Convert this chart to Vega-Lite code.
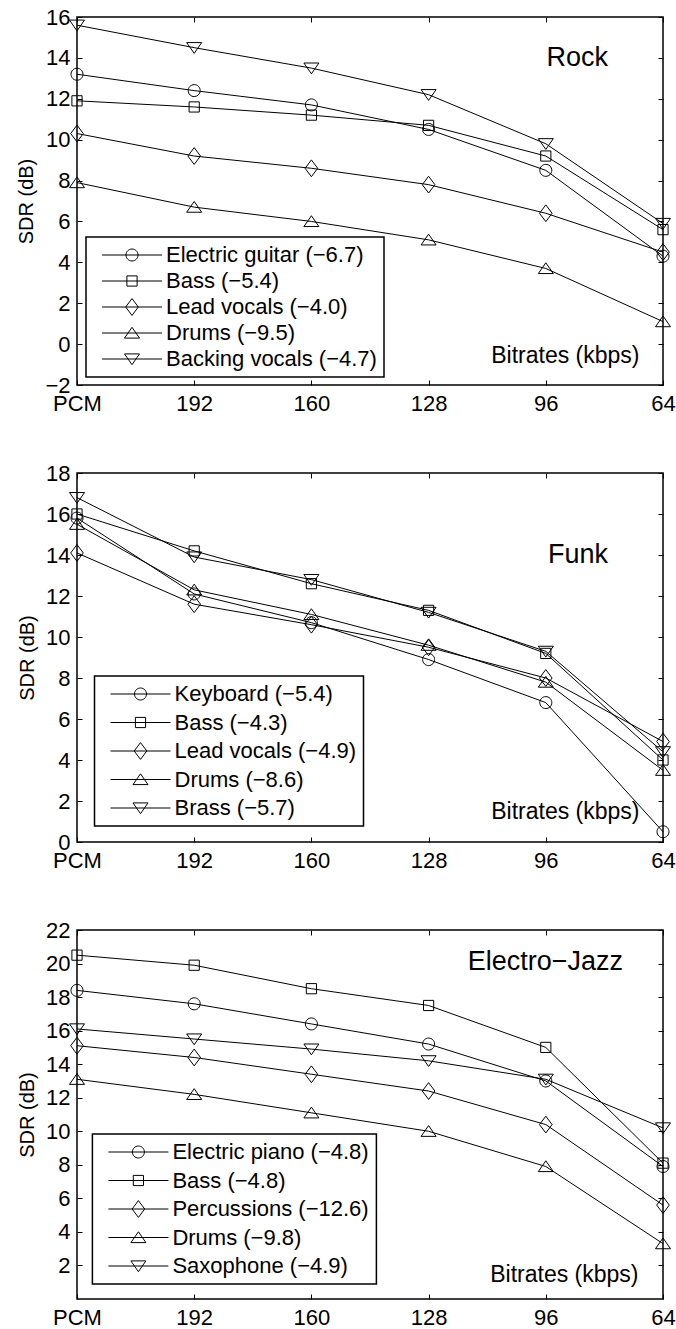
{
  "$schema": "https://vega.github.io/schema/vega-lite/v6.json",
  "padding": {"left": 16, "top": 5, "right": 0, "bottom": 0},
  "spacing": 46,
  "config": {
    "font": "Liberation Sans",
    "view": {"stroke": "black", "strokeWidth": 1.5},
    "axis": {
      "grid": false, "domain": false, "ticks": true, "tickSize": -5, "tickColor": "black", "tickWidth": 1,
      "labelFont": "Liberation Sans", "labelFontSize": 22, "labelColor": "black",
      "titleFont": "Liberation Sans", "titleFontWeight": "normal", "titleColor": "black"
    },
    "legend": {
      "strokeColor": "black", "strokeWidth": 1.5, "fillColor": "white", "padding": 7,
      "labelFont": "Liberation Sans", "labelFontSize": 22, "labelColor": "black", "labelLimit": 400,
      "symbolSize": 144, "symbolStrokeWidth": 1, "symbolStrokeColor": "black", "symbolFillColor": "transparent",
      "symbolOffset": 28, "labelOffset": 23, "rowPadding": 4
    }
  },
  "datasets": {
    "sdr": [
      {"panel": "Rock", "series": "Electric guitar (−6.7)", "bitrate": "PCM", "sdr": 13.2},
      {"panel": "Rock", "series": "Electric guitar (−6.7)", "bitrate": "192", "sdr": 12.4},
      {"panel": "Rock", "series": "Electric guitar (−6.7)", "bitrate": "160", "sdr": 11.7},
      {"panel": "Rock", "series": "Electric guitar (−6.7)", "bitrate": "128", "sdr": 10.5},
      {"panel": "Rock", "series": "Electric guitar (−6.7)", "bitrate": "96", "sdr": 8.5},
      {"panel": "Rock", "series": "Electric guitar (−6.7)", "bitrate": "64", "sdr": 4.3},
      {"panel": "Rock", "series": "Bass (−5.4)", "bitrate": "PCM", "sdr": 11.9},
      {"panel": "Rock", "series": "Bass (−5.4)", "bitrate": "192", "sdr": 11.6},
      {"panel": "Rock", "series": "Bass (−5.4)", "bitrate": "160", "sdr": 11.2},
      {"panel": "Rock", "series": "Bass (−5.4)", "bitrate": "128", "sdr": 10.7},
      {"panel": "Rock", "series": "Bass (−5.4)", "bitrate": "96", "sdr": 9.2},
      {"panel": "Rock", "series": "Bass (−5.4)", "bitrate": "64", "sdr": 5.6},
      {"panel": "Rock", "series": "Lead vocals (−4.0)", "bitrate": "PCM", "sdr": 10.3},
      {"panel": "Rock", "series": "Lead vocals (−4.0)", "bitrate": "192", "sdr": 9.2},
      {"panel": "Rock", "series": "Lead vocals (−4.0)", "bitrate": "160", "sdr": 8.6},
      {"panel": "Rock", "series": "Lead vocals (−4.0)", "bitrate": "128", "sdr": 7.8},
      {"panel": "Rock", "series": "Lead vocals (−4.0)", "bitrate": "96", "sdr": 6.4},
      {"panel": "Rock", "series": "Lead vocals (−4.0)", "bitrate": "64", "sdr": 4.5},
      {"panel": "Rock", "series": "Drums (−9.5)", "bitrate": "PCM", "sdr": 7.9},
      {"panel": "Rock", "series": "Drums (−9.5)", "bitrate": "192", "sdr": 6.7},
      {"panel": "Rock", "series": "Drums (−9.5)", "bitrate": "160", "sdr": 6.0},
      {"panel": "Rock", "series": "Drums (−9.5)", "bitrate": "128", "sdr": 5.1},
      {"panel": "Rock", "series": "Drums (−9.5)", "bitrate": "96", "sdr": 3.7},
      {"panel": "Rock", "series": "Drums (−9.5)", "bitrate": "64", "sdr": 1.1},
      {"panel": "Rock", "series": "Backing vocals (−4.7)", "bitrate": "PCM", "sdr": 15.6},
      {"panel": "Rock", "series": "Backing vocals (−4.7)", "bitrate": "192", "sdr": 14.5},
      {"panel": "Rock", "series": "Backing vocals (−4.7)", "bitrate": "160", "sdr": 13.5},
      {"panel": "Rock", "series": "Backing vocals (−4.7)", "bitrate": "128", "sdr": 12.2},
      {"panel": "Rock", "series": "Backing vocals (−4.7)", "bitrate": "96", "sdr": 9.8},
      {"panel": "Rock", "series": "Backing vocals (−4.7)", "bitrate": "64", "sdr": 5.9},

      {"panel": "Funk", "series": "Keyboard (−5.4)", "bitrate": "PCM", "sdr": 15.8},
      {"panel": "Funk", "series": "Keyboard (−5.4)", "bitrate": "192", "sdr": 12.1},
      {"panel": "Funk", "series": "Keyboard (−5.4)", "bitrate": "160", "sdr": 10.7},
      {"panel": "Funk", "series": "Keyboard (−5.4)", "bitrate": "128", "sdr": 8.9},
      {"panel": "Funk", "series": "Keyboard (−5.4)", "bitrate": "96", "sdr": 6.8},
      {"panel": "Funk", "series": "Keyboard (−5.4)", "bitrate": "64", "sdr": 0.5},
      {"panel": "Funk", "series": "Bass (−4.3)", "bitrate": "PCM", "sdr": 16.0},
      {"panel": "Funk", "series": "Bass (−4.3)", "bitrate": "192", "sdr": 14.2},
      {"panel": "Funk", "series": "Bass (−4.3)", "bitrate": "160", "sdr": 12.6},
      {"panel": "Funk", "series": "Bass (−4.3)", "bitrate": "128", "sdr": 11.3},
      {"panel": "Funk", "series": "Bass (−4.3)", "bitrate": "96", "sdr": 9.2},
      {"panel": "Funk", "series": "Bass (−4.3)", "bitrate": "64", "sdr": 4.0},
      {"panel": "Funk", "series": "Lead vocals (−4.9)", "bitrate": "PCM", "sdr": 14.1},
      {"panel": "Funk", "series": "Lead vocals (−4.9)", "bitrate": "192", "sdr": 11.6},
      {"panel": "Funk", "series": "Lead vocals (−4.9)", "bitrate": "160", "sdr": 10.6},
      {"panel": "Funk", "series": "Lead vocals (−4.9)", "bitrate": "128", "sdr": 9.5},
      {"panel": "Funk", "series": "Lead vocals (−4.9)", "bitrate": "96", "sdr": 8.0},
      {"panel": "Funk", "series": "Lead vocals (−4.9)", "bitrate": "64", "sdr": 4.9},
      {"panel": "Funk", "series": "Drums (−8.6)", "bitrate": "PCM", "sdr": 15.5},
      {"panel": "Funk", "series": "Drums (−8.6)", "bitrate": "192", "sdr": 12.3},
      {"panel": "Funk", "series": "Drums (−8.6)", "bitrate": "160", "sdr": 11.1},
      {"panel": "Funk", "series": "Drums (−8.6)", "bitrate": "128", "sdr": 9.6},
      {"panel": "Funk", "series": "Drums (−8.6)", "bitrate": "96", "sdr": 7.8},
      {"panel": "Funk", "series": "Drums (−8.6)", "bitrate": "64", "sdr": 3.5},
      {"panel": "Funk", "series": "Brass (−5.7)", "bitrate": "PCM", "sdr": 16.8},
      {"panel": "Funk", "series": "Brass (−5.7)", "bitrate": "192", "sdr": 13.9},
      {"panel": "Funk", "series": "Brass (−5.7)", "bitrate": "160", "sdr": 12.8},
      {"panel": "Funk", "series": "Brass (−5.7)", "bitrate": "128", "sdr": 11.2},
      {"panel": "Funk", "series": "Brass (−5.7)", "bitrate": "96", "sdr": 9.3},
      {"panel": "Funk", "series": "Brass (−5.7)", "bitrate": "64", "sdr": 4.4},

      {"panel": "Electro-Jazz", "series": "Electric piano (−4.8)", "bitrate": "PCM", "sdr": 18.4},
      {"panel": "Electro-Jazz", "series": "Electric piano (−4.8)", "bitrate": "192", "sdr": 17.6},
      {"panel": "Electro-Jazz", "series": "Electric piano (−4.8)", "bitrate": "160", "sdr": 16.4},
      {"panel": "Electro-Jazz", "series": "Electric piano (−4.8)", "bitrate": "128", "sdr": 15.2},
      {"panel": "Electro-Jazz", "series": "Electric piano (−4.8)", "bitrate": "96", "sdr": 13.0},
      {"panel": "Electro-Jazz", "series": "Electric piano (−4.8)", "bitrate": "64", "sdr": 7.9},
      {"panel": "Electro-Jazz", "series": "Bass (−4.8)", "bitrate": "PCM", "sdr": 20.5},
      {"panel": "Electro-Jazz", "series": "Bass (−4.8)", "bitrate": "192", "sdr": 19.9},
      {"panel": "Electro-Jazz", "series": "Bass (−4.8)", "bitrate": "160", "sdr": 18.5},
      {"panel": "Electro-Jazz", "series": "Bass (−4.8)", "bitrate": "128", "sdr": 17.5},
      {"panel": "Electro-Jazz", "series": "Bass (−4.8)", "bitrate": "96", "sdr": 15.0},
      {"panel": "Electro-Jazz", "series": "Bass (−4.8)", "bitrate": "64", "sdr": 8.1},
      {"panel": "Electro-Jazz", "series": "Percussions (−12.6)", "bitrate": "PCM", "sdr": 15.1},
      {"panel": "Electro-Jazz", "series": "Percussions (−12.6)", "bitrate": "192", "sdr": 14.4},
      {"panel": "Electro-Jazz", "series": "Percussions (−12.6)", "bitrate": "160", "sdr": 13.4},
      {"panel": "Electro-Jazz", "series": "Percussions (−12.6)", "bitrate": "128", "sdr": 12.4},
      {"panel": "Electro-Jazz", "series": "Percussions (−12.6)", "bitrate": "96", "sdr": 10.4},
      {"panel": "Electro-Jazz", "series": "Percussions (−12.6)", "bitrate": "64", "sdr": 5.6},
      {"panel": "Electro-Jazz", "series": "Drums (−9.8)", "bitrate": "PCM", "sdr": 13.1},
      {"panel": "Electro-Jazz", "series": "Drums (−9.8)", "bitrate": "192", "sdr": 12.2},
      {"panel": "Electro-Jazz", "series": "Drums (−9.8)", "bitrate": "160", "sdr": 11.1},
      {"panel": "Electro-Jazz", "series": "Drums (−9.8)", "bitrate": "128", "sdr": 10.0},
      {"panel": "Electro-Jazz", "series": "Drums (−9.8)", "bitrate": "96", "sdr": 7.9},
      {"panel": "Electro-Jazz", "series": "Drums (−9.8)", "bitrate": "64", "sdr": 3.3},
      {"panel": "Electro-Jazz", "series": "Saxophone (−4.9)", "bitrate": "PCM", "sdr": 16.1},
      {"panel": "Electro-Jazz", "series": "Saxophone (−4.9)", "bitrate": "192", "sdr": 15.5},
      {"panel": "Electro-Jazz", "series": "Saxophone (−4.9)", "bitrate": "160", "sdr": 14.9},
      {"panel": "Electro-Jazz", "series": "Saxophone (−4.9)", "bitrate": "128", "sdr": 14.2},
      {"panel": "Electro-Jazz", "series": "Saxophone (−4.9)", "bitrate": "96", "sdr": 13.1},
      {"panel": "Electro-Jazz", "series": "Saxophone (−4.9)", "bitrate": "64", "sdr": 10.2}
    ]
  },
  "vconcat": [
    {
      "width": 586, "height": 368,
      "title": {"text": "Rock", "anchor": "end", "frame": "group", "offset": 0, "dx": -55, "dy": 87, "baseline": "alphabetic", "fontSize": 27, "fontWeight": "normal", "font": "Liberation Sans", "color": "black"},
      "data": {"name": "sdr"},
      "transform": [{"filter": "datum.panel == 'Rock'"}],
      "layer": [
        {
          "mark": {"type": "line", "color": "black", "strokeWidth": 1},
          "encoding": {
            "x": {"field": "bitrate", "type": "ordinal", "sort": null, "scale": {"type": "point", "padding": 0, "domain": ["PCM", "192", "160", "128", "96", "64"]},
                  "axis": {"orient": "bottom", "labelAngle": 0, "labelPadding": 13, "labelFlush": false, "title": "Bitrates (kbps)", "titleFontSize": 23, "titleX": 562, "titleY": -22.3, "titleAlign": "right", "titleBaseline": "alphabetic"}},
            "y": {"field": "sdr", "type": "quantitative", "scale": {"domain": [-2, 16], "nice": false, "zero": false},
                  "axis": {"orient": "left", "values": [-2, 0, 2, 4, 6, 8, 10, 12, 14, 16], "labelPadding": 12, "title": "SDR (dB)", "titleFontSize": 20, "titlePadding": 8}},
            "detail": {"field": "series"}
          }
        },
        {
          "mark": {"type": "point", "filled": false, "stroke": "black", "strokeWidth": 1, "size": 144, "opacity": 1},
          "encoding": {
            "x": {"field": "bitrate", "type": "ordinal", "sort": null, "axis": {"orient": "top", "labels": false, "title": null}},
            "y": {"field": "sdr", "type": "quantitative", "axis": {"orient": "right", "labels": false, "title": null, "values": [-2, 0, 2, 4, 6, 8, 10, 12, 14, 16]}},
            "shape": {"field": "series", "type": "nominal", "legend": null,
                      "scale": {"domain": ["Electric guitar (−6.7)", "Bass (−5.4)", "Lead vocals (−4.0)", "Drums (−9.5)", "Backing vocals (−4.7)"],
                                "range": ["M1,0A1,1,0,1,1,-1,0A1,1,0,1,1,1,0Z", "M-0.85,-0.85H0.85V0.85H-0.85Z", "M0,-1.4L1.05,0L0,1.4L-1.05,0Z", "M0,-0.95L1.25,0.85H-1.25Z", "M0,0.95L1.25,-0.85H-1.25Z"]}}
          }
        },
        {
          "mark": {"type": "point", "filled": false, "size": 144, "opacity": 0},
          "encoding": {
            "x": {"field": "bitrate", "type": "ordinal", "sort": null, "axis": null},
            "y": {"field": "sdr", "type": "quantitative", "axis": null},
            "shape": {"field": "series", "type": "nominal",
                      "scale": {"domain": ["Electric guitar (−6.7)", "Bass (−5.4)", "Lead vocals (−4.0)", "Drums (−9.5)", "Backing vocals (−4.7)"],
                                "range": ["M-5,0H5M1,0A1,1,0,1,1,-1,0A1,1,0,1,1,1,0Z", "M-5,0H5M-0.85,-0.85H0.85V0.85H-0.85Z", "M-5,0H5M0,-1.4L1.05,0L0,1.4L-1.05,0Z", "M-5,0H5M0,-0.95L1.25,0.85H-1.25Z", "M-5,0H5M0,0.95L1.25,-0.85H-1.25Z"]},
                      "legend": {"orient": "none", "legendX": 9, "legendY": 220, "title": null,
                                 "encode": {"symbols": {"update": {"opacity": {"value": 1}, "stroke": {"value": "black"}, "fill": {"value": "transparent"}, "strokeWidth": {"value": 1}}}}}}
          }
        }
      ],
      "resolve": {"scale": {"shape": "independent"}, "axis": {"x": "independent", "y": "independent"}}
    },
    {
      "width": 586, "height": 369,
      "title": {"text": "Funk", "anchor": "end", "frame": "group", "offset": 0, "dx": -55, "dy": 128, "baseline": "alphabetic", "fontSize": 27, "fontWeight": "normal", "font": "Liberation Sans", "color": "black"},
      "data": {"name": "sdr"},
      "transform": [{"filter": "datum.panel == 'Funk'"}],
      "layer": [
        {
          "mark": {"type": "line", "color": "black", "strokeWidth": 1},
          "encoding": {
            "x": {"field": "bitrate", "type": "ordinal", "sort": null, "scale": {"type": "point", "padding": 0, "domain": ["PCM", "192", "160", "128", "96", "64"]},
                  "axis": {"orient": "bottom", "labelAngle": 0, "labelPadding": 13, "labelFlush": false, "title": "Bitrates (kbps)", "titleFontSize": 23, "titleX": 562, "titleY": -24, "titleAlign": "right", "titleBaseline": "alphabetic"}},
            "y": {"field": "sdr", "type": "quantitative", "scale": {"domain": [0, 18], "nice": false, "zero": false},
                  "axis": {"orient": "left", "values": [0, 2, 4, 6, 8, 10, 12, 14, 16, 18], "labelPadding": 12, "title": "SDR (dB)", "titleFontSize": 20, "titlePadding": 8}},
            "detail": {"field": "series"}
          }
        },
        {
          "mark": {"type": "point", "filled": false, "stroke": "black", "strokeWidth": 1, "size": 144, "opacity": 1},
          "encoding": {
            "x": {"field": "bitrate", "type": "ordinal", "sort": null, "axis": {"orient": "top", "labels": false, "title": null}},
            "y": {"field": "sdr", "type": "quantitative", "axis": {"orient": "right", "labels": false, "title": null, "values": [0, 2, 4, 6, 8, 10, 12, 14, 16, 18]}},
            "shape": {"field": "series", "type": "nominal", "legend": null,
                      "scale": {"domain": ["Keyboard (−5.4)", "Bass (−4.3)", "Lead vocals (−4.9)", "Drums (−8.6)", "Brass (−5.7)"],
                                "range": ["M1,0A1,1,0,1,1,-1,0A1,1,0,1,1,1,0Z", "M-0.85,-0.85H0.85V0.85H-0.85Z", "M0,-1.4L1.05,0L0,1.4L-1.05,0Z", "M0,-0.95L1.25,0.85H-1.25Z", "M0,0.95L1.25,-0.85H-1.25Z"]}}
          }
        },
        {
          "mark": {"type": "point", "filled": false, "size": 144, "opacity": 0},
          "encoding": {
            "x": {"field": "bitrate", "type": "ordinal", "sort": null, "axis": null},
            "y": {"field": "sdr", "type": "quantitative", "axis": null},
            "shape": {"field": "series", "type": "nominal",
                      "scale": {"domain": ["Keyboard (−5.4)", "Bass (−4.3)", "Lead vocals (−4.9)", "Drums (−8.6)", "Brass (−5.7)"],
                                "range": ["M-5,0H5M1,0A1,1,0,1,1,-1,0A1,1,0,1,1,1,0Z", "M-5,0H5M-0.85,-0.85H0.85V0.85H-0.85Z", "M-5,0H5M0,-1.4L1.05,0L0,1.4L-1.05,0Z", "M-5,0H5M0,-0.95L1.25,0.85H-1.25Z", "M-5,0H5M0,0.95L1.25,-0.85H-1.25Z"]},
                      "legend": {"orient": "none", "legendX": 17.5, "legendY": 203, "title": null, "rowPadding": 6.5,
                                 "encode": {"symbols": {"update": {"opacity": {"value": 1}, "stroke": {"value": "black"}, "fill": {"value": "transparent"}, "strokeWidth": {"value": 1}}}}}}
          }
        }
      ],
      "resolve": {"scale": {"shape": "independent"}, "axis": {"x": "independent", "y": "independent"}}
    },
    {
      "width": 586, "height": 369,
      "title": {"text": "Electro−Jazz", "anchor": "end", "frame": "group", "offset": 0, "dx": -40, "dy": 78, "baseline": "alphabetic", "fontSize": 27, "fontWeight": "normal", "font": "Liberation Sans", "color": "black"},
      "data": {"name": "sdr"},
      "transform": [{"filter": "datum.panel == 'Electro-Jazz'"}],
      "layer": [
        {
          "mark": {"type": "line", "color": "black", "strokeWidth": 1},
          "encoding": {
            "x": {"field": "bitrate", "type": "ordinal", "sort": null, "scale": {"type": "point", "padding": 0, "domain": ["PCM", "192", "160", "128", "96", "64"]},
                  "axis": {"orient": "bottom", "labelAngle": 0, "labelPadding": 13, "labelFlush": false, "title": "Bitrates (kbps)", "titleFontSize": 23, "titleX": 561, "titleY": -17.6, "titleAlign": "right", "titleBaseline": "alphabetic"}},
            "y": {"field": "sdr", "type": "quantitative", "scale": {"domain": [0, 22], "nice": false, "zero": false},
                  "axis": {"orient": "left", "values": [2, 4, 6, 8, 10, 12, 14, 16, 18, 20, 22], "labelPadding": 12, "title": "SDR (dB)", "titleFontSize": 20, "titlePadding": 8}},
            "detail": {"field": "series"}
          }
        },
        {
          "mark": {"type": "point", "filled": false, "stroke": "black", "strokeWidth": 1, "size": 144, "opacity": 1},
          "encoding": {
            "x": {"field": "bitrate", "type": "ordinal", "sort": null, "axis": {"orient": "top", "labels": false, "title": null}},
            "y": {"field": "sdr", "type": "quantitative", "axis": {"orient": "right", "labels": false, "title": null, "values": [2, 4, 6, 8, 10, 12, 14, 16, 18, 20, 22]}},
            "shape": {"field": "series", "type": "nominal", "legend": null,
                      "scale": {"domain": ["Electric piano (−4.8)", "Bass (−4.8)", "Percussions (−12.6)", "Drums (−9.8)", "Saxophone (−4.9)"],
                                "range": ["M1,0A1,1,0,1,1,-1,0A1,1,0,1,1,1,0Z", "M-0.85,-0.85H0.85V0.85H-0.85Z", "M0,-1.4L1.05,0L0,1.4L-1.05,0Z", "M0,-0.95L1.25,0.85H-1.25Z", "M0,0.95L1.25,-0.85H-1.25Z"]}}
          }
        },
        {
          "mark": {"type": "point", "filled": false, "size": 144, "opacity": 0},
          "encoding": {
            "x": {"field": "bitrate", "type": "ordinal", "sort": null, "axis": null},
            "y": {"field": "sdr", "type": "quantitative", "axis": null},
            "shape": {"field": "series", "type": "nominal",
                      "scale": {"domain": ["Electric piano (−4.8)", "Bass (−4.8)", "Percussions (−12.6)", "Drums (−9.8)", "Saxophone (−4.9)"],
                                "range": ["M-5,0H5M1,0A1,1,0,1,1,-1,0A1,1,0,1,1,1,0Z", "M-5,0H5M-0.85,-0.85H0.85V0.85H-0.85Z", "M-5,0H5M0,-1.4L1.05,0L0,1.4L-1.05,0Z", "M-5,0H5M0,-0.95L1.25,0.85H-1.25Z", "M-5,0H5M0,0.95L1.25,-0.85H-1.25Z"]},
                      "legend": {"orient": "none", "legendX": 15.4, "legendY": 204, "title": null, "rowPadding": 6.5,
                                 "encode": {"symbols": {"update": {"opacity": {"value": 1}, "stroke": {"value": "black"}, "fill": {"value": "transparent"}, "strokeWidth": {"value": 1}}}}}}
          }
        }
      ],
      "resolve": {"scale": {"shape": "independent"}, "axis": {"x": "independent", "y": "independent"}}
    }
  ]
}
